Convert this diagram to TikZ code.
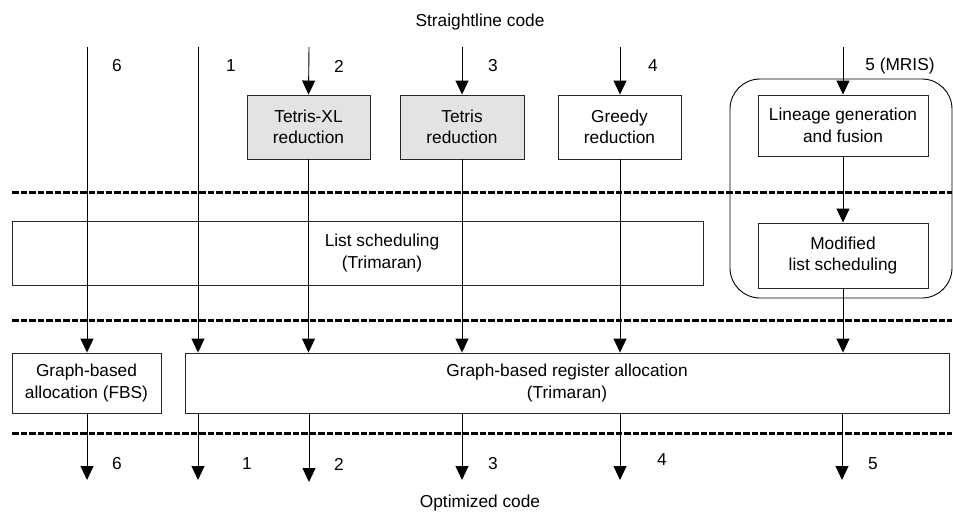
\documentclass[tikz,border=0pt]{standalone}
\usepackage{fontspec}
\setmainfont{Liberation Sans}
\usetikzlibrary{arrows.meta}

\begin{document}
\begin{tikzpicture}[x=1pt,y=-1pt,
  font=\fontsize{17.3}{21.5}\selectfont,
  stagebox/.style={draw=black!85, line width=0.9pt, fill=white, inner sep=0pt, align=center},
  shaded/.style={fill=black!11},
  flow/.style={line width=0.9pt, -{Triangle[width=13pt,length=14pt]}},
  phase/.style={line width=3pt, dash pattern=on 6.5pt off 2pt},
  lbl/.style={inner sep=0pt}
]
\useasboundingbox (0,0) rectangle (953,512);

% MRIS group container
\node[draw=black, line width=0.9pt, rounded corners=30pt, inner sep=0pt,
      minimum width=222pt, minimum height=219pt] (mris) at (841,188.5) {};

% phase separators
\coordinate (s1l) at (12,192);  \coordinate (s1r) at (952,192);
\coordinate (s2l) at (12,320);  \coordinate (s2r) at (952,320);
\coordinate (s3l) at (12,433);  \coordinate (s3r) at (952,433);

% stage boxes
\node[stagebox, shaded, minimum width=123pt, minimum height=64pt] (txl) at (308.5,127) {Tetris-XL\\reduction};
\node[stagebox, shaded, minimum width=124pt, minimum height=64pt] (tet) at (462,127) {Tetris\\reduction};
\node[stagebox, minimum width=123pt, minimum height=64pt] (gre) at (619.5,127) {Greedy\\reduction};
\node[stagebox, minimum width=170pt, minimum height=61pt] (lin) at (843,125.5) {Lineage generation\\and fusion};
\node[stagebox, minimum width=170pt, minimum height=65pt] (mod) at (843,255.5) {Modified\\list scheduling};
\node[stagebox, minimum width=691pt, minimum height=64pt] (lst) at (357.5,253) {};
\node[lbl, align=center] (lsttxt) at (382,253) {List scheduling\\(Trimaran)};
\node[stagebox, minimum width=149pt, minimum height=60pt] (fbs) at (86.5,383) {Graph-based\\allocation (FBS)};
\node[stagebox, minimum width=764pt, minimum height=60pt] (gra) at (567,383) {Graph-based register allocation\\(Trimaran)};

% separators drawn over the boxes they cross
\draw[phase] (s1l) -- (s1r);
\draw[phase] (s2l) -- (s2r);
\draw[phase] (s3l) -- (s3r);

% entry points of the six paths
\coordinate (in6) at (87,47);
\coordinate (in1) at (198,47);
\coordinate (in2) at (309,47);
\coordinate (in3) at (462,47);
\coordinate (in4) at (620,47);
\coordinate (in5) at (843,47);

% exit points
\coordinate (out6) at (87,480);
\coordinate (out1) at (198,480);
\coordinate (out2) at (309,482);
\coordinate (out3) at (462,480);
\coordinate (out4) at (620,480);
\coordinate (out5) at (842,480);

% paths through the phases
\draw[flow] (in6) -- (in6 |- fbs.north);
\draw[flow] (in1) -- (in1 |- gra.north);
\draw[flow] (in2) -- (txl.north);
\draw[flow] (txl.south) -- (txl.south |- gra.north);
\draw[flow] (in3) -- (tet.north);
\draw[flow] (tet.south) -- (tet.south |- gra.north);
\draw[flow] (in4) -- (in4 |- gre.north);
\draw[flow] (in4 |- gre.south) -- (in4 |- gra.north);
\draw[flow] (in5) -- (lin.north);
\draw[flow] (lin.south) -- (mod.north);
\draw[flow] (mod.south) -- (mod.south |- gra.north);

% outputs
\draw[flow] (out6 |- fbs.south) -- (out6);
\draw[flow] (out1 |- gra.south) -- (out1);
\draw[flow] (out2 |- gra.south) -- (out2);
\draw[flow] (out3 |- gra.south) -- (out3);
\draw[flow] (out4 |- gra.south) -- (out4);
\draw[flow] (out5 |- gra.south) -- (out5);

% titles
\node[lbl] (title) at (480,22) {Straightline code};
\node[lbl] (result) at (480,503) {Optimized code};

% path numbers, top
\node[lbl] (n6t) at (117,66) {6};
\node[lbl] (n1t) at (231,66) {1};
\node[lbl] (n2t) at (339,66) {2};
\node[lbl] (n3t) at (493,66) {3};
\node[lbl] (n4t) at (653,66) {4};
\node[lbl] (n5t) at (900,66) {5 (MRIS)};

% path numbers, bottom
\node[lbl] (n6b) at (117,464) {6};
\node[lbl] (n1b) at (247,464) {1};
\node[lbl] (n2b) at (339,464) {2};
\node[lbl] (n3b) at (493,464) {3};
\node[lbl] (n4b) at (662,460) {4};
\node[lbl] (n5b) at (873,464) {5};
\end{tikzpicture}
\end{document}
